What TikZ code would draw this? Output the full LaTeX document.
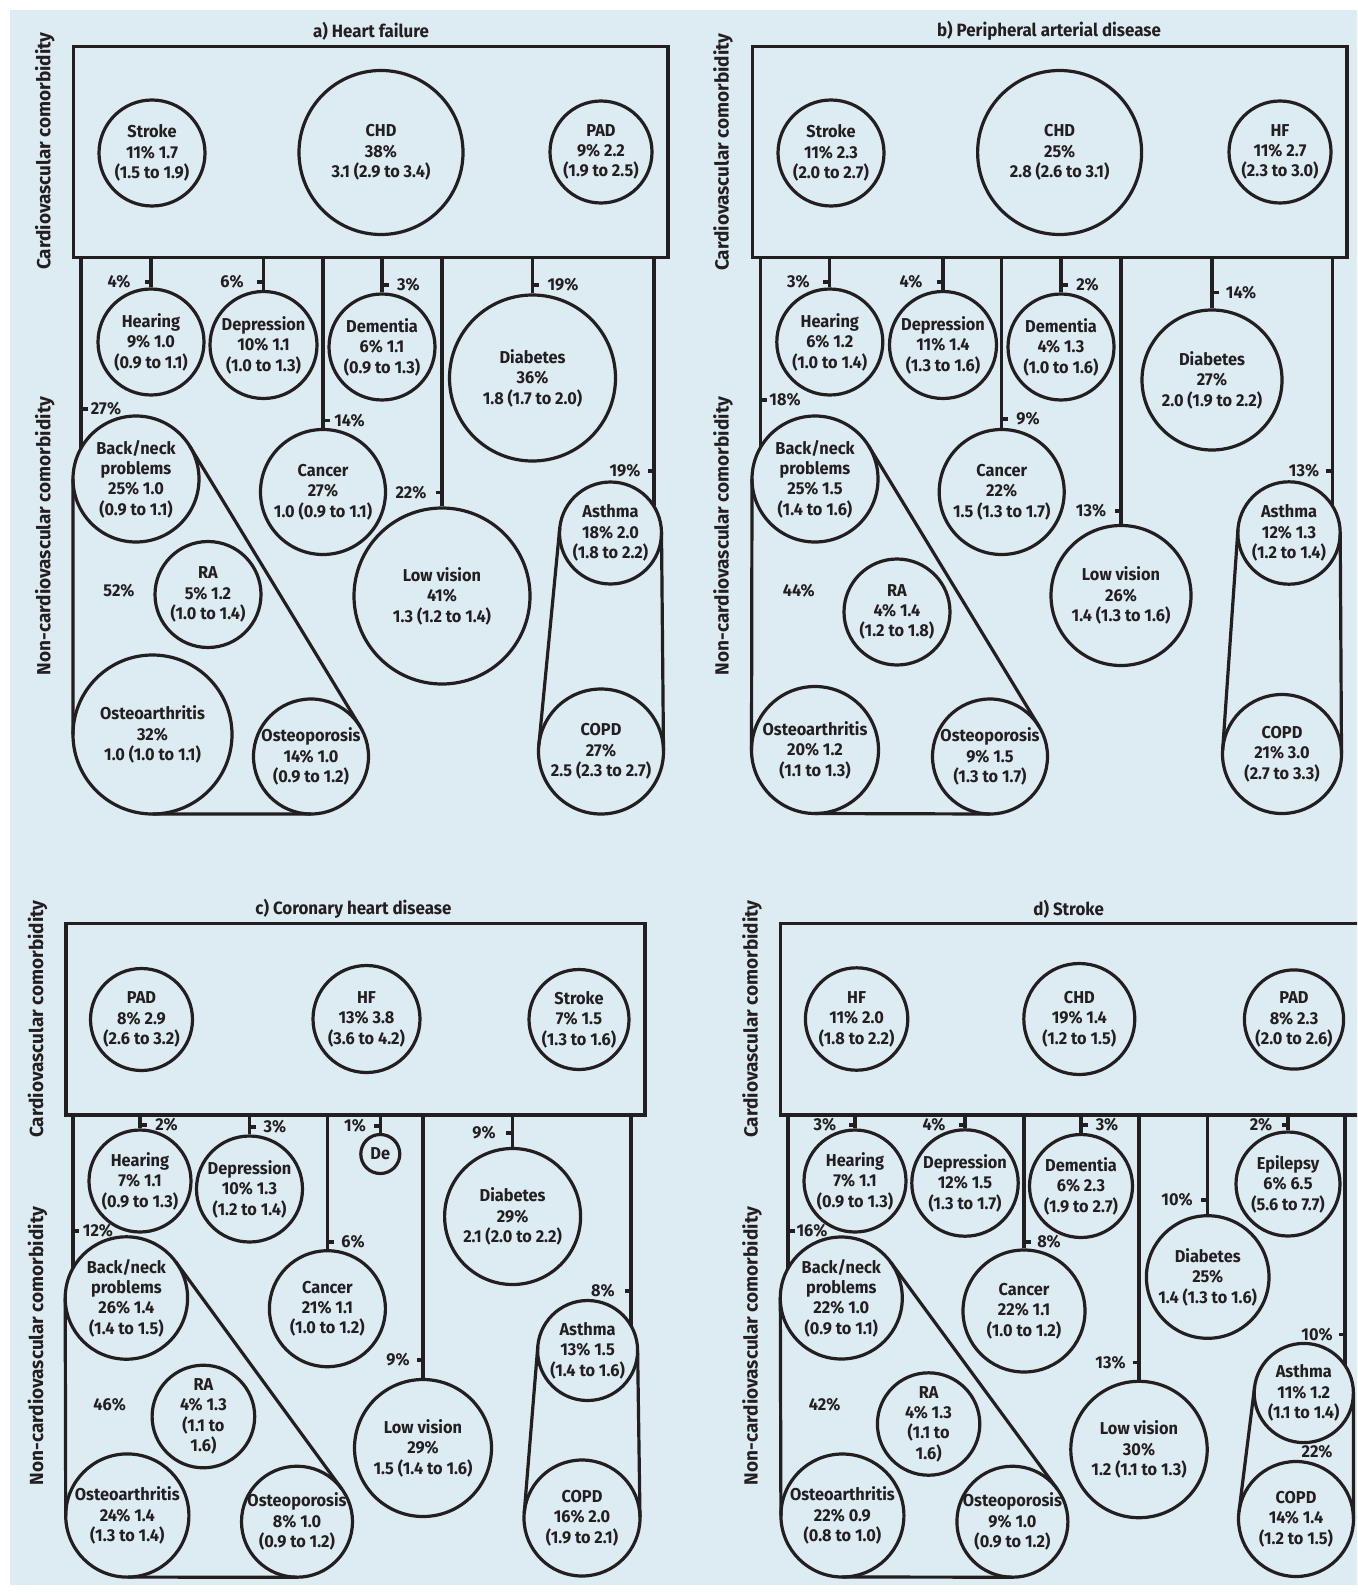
\documentclass[tikz,border=0pt]{standalone}
\usepackage{fontspec}
\setmainfont{Fira Sans}[FakeStretch=0.95]
\newfontfamily\axisfam{Fira Sans}
\usetikzlibrary{calc}
\definecolor{bg}{RGB}{221,235,243}
\definecolor{ink}{RGB}{35,31,32}
\newcommand\nf{\fontsize{8.6}{10.2}\selectfont\bfseries}
\newcommand\tf{\fontsize{8.9}{10.5}\selectfont\bfseries}
\newcommand\af{\axisfam\fontsize{9.5}{11}\selectfont\bfseries}
\tikzset{
 circ/.style={shape=circle,draw=ink,line width=1.6pt,inner sep=0pt,minimum size=#1pt},
 ctext/.style={font=\nf,text=ink,align=center,inner sep=0pt},
 box/.style={shape=rectangle,draw=ink,line width=1.6pt,inner sep=0pt},
 conn/.style={draw=ink,line width=1.6pt},
 hull/.style={draw=ink,line width=1.6pt},
 lab/.style={font=\nf,text=ink,inner sep=0pt},
 ttl/.style={font=\tf,text=ink,inner sep=0pt},
 axislab/.style={font=\af,text=ink,rotate=90,inner sep=0pt},
}
% circle node: name, x, y, radius(px), text
\newcommand\mkcirc[5]{\node[circ=#4] (#1) at (#2,#3) {};\node[ctext] (#1t) at (#1.center) {#5};}
% tick: name, x, y, dir, label x, text
\newcommand\pctick[6]{\draw[conn] (#2,#3) -- ++(#4*6.5,0);\node[lab] (#1) at (#5,#3) {#6};}
% external tangent between two circles: x1 y1 r1 x2 y2 r2 side
\newcommand\hulltan[7]{%
 \pgfmathsetmacro\tdx{(#4)-(#1)}%
 \pgfmathsetmacro\tdy{(#5)-(#2)}%
 \pgfmathsetmacro\tL{veclen(\tdx,\tdy)}%
 \pgfmathsetmacro\tph{atan2(\tdy,\tdx)}%
 \pgfmathsetmacro\tth{\tph+(#7)*acos(((#3)-(#6))/\tL)}%
 \draw[hull] ($(#1,#2)+(\tth:#3)$) -- ($(#4,#5)+(\tth:#6)$);}
\begin{document}
\begin{tikzpicture}[x=0.5pt,y=-0.5pt]
\useasboundingbox (0,0) rectangle (1357,1594);
\clip (0,0) rectangle (1357,1594);
\fill[white] (0,0) rectangle (1357,1594);
\fill[bg] (9.5,10) rectangle (1357,1585);

%================ a) Heart failure
\node[ttl] (ta) at (371,31) {a) Heart failure};
\node[axislab] (cva) at (44.7,151) {Cardiovascular comorbidity};
\node[axislab] (nca) at (44.7,536) {Non-cardiovascular comorbidity};
\node[box,minimum width=297.15pt,minimum height=105.5pt] (ra) at (370.85,152.2) {};
\mkcirc{a1}{152}{153}{53}{Stroke\\11\% 1.7\\(1.5 to 1.9)}
\mkcirc{a2}{381}{152.5}{82}{CHD\\38\%\\3.1 (2.9 to 3.4)}
\mkcirc{a3}{601}{152}{51}{PAD\\9\% 2.2\\(1.9 to 2.5)}
\mkcirc{a4}{151}{342}{53}{Hearing\\9\% 1.0\\(0.9 to 1.1)}
\mkcirc{a5}{263.5}{345}{53.5}{Depression\\10\% 1.1\\(1.0 to 1.3)}
\mkcirc{a6}{382}{347}{53}{Dementia\\6\% 1.1\\(0.9 to 1.3)}
\mkcirc{a7}{532.5}{378}{83}{Diabetes\\36\%\\1.8 (1.7 to 2.0)}
\mkcirc{a8}{323}{492}{62.5}{Cancer\\27\%\\1.0 (0.9 to 1.1)}
\mkcirc{a9}{442}{596}{88}{Low vision\\41\%\\1.3 (1.2 to 1.4)}
\mkcirc{a10}{610.5}{533}{51}{Asthma\\18\% 2.0\\(1.8 to 2.2)}
\mkcirc{a11}{601}{751.5}{62.5}{COPD\\27\%\\2.5 (2.3 to 2.7)}
\mkcirc{a12}{136}{479}{63}{Back/neck\\problems\\25\% 1.0\\(0.9 to 1.1)}
\mkcirc{a13}{208}{594.5}{53}{RA\\5\% 1.2\\(1.0 to 1.4)}
\mkcirc{a14}{152.5}{734.5}{79.5}{Osteoarthritis\\32\%\\1.0 (1.0 to 1.1)}
\mkcirc{a15}{311}{756.5}{57.5}{Osteoporosis\\14\% 1.0\\(0.9 to 1.2)}
\coordinate (aL) at (81,448.3);
\coordinate (aR) at (654,506.4);
\foreach \n in {a4,a5,a6,a7,a8,a9} \draw[conn] (ra.south -| \n.north) -- (\n.north);
\draw[conn] (ra.south -| aL) -- (aL);
\draw[conn] (ra.south -| aR) -- (aR);
\pctick{pa1}{151}{282}{-1}{119}{4\%}
\pctick{pa2}{263.5}{282}{-1}{232}{6\%}
\pctick{pa3}{382}{285}{1}{408.5}{3\%}
\pctick{pa4}{532.5}{285}{1}{563}{19\%}
\pctick{pa5}{81}{409}{1}{106}{27\%}
\pctick{pa6}{323}{420.7}{1}{349.5}{14\%}
\pctick{pa7}{442}{492.7}{-1}{411}{22\%}
\pctick{pa8}{654}{471}{-1}{625}{19\%}
\node[lab] (ga) at (119,590.7) {52\%};
\hulltan{136}{479}{63}{152.5}{734.5}{79.5}{1}
\hulltan{136}{479}{63}{311}{756.5}{57.5}{-1}
\hulltan{152.5}{734.5}{79.5}{311}{756.5}{57.5}{1}
\hulltan{610.5}{533}{51}{601}{751.5}{62.5}{1}
\hulltan{610.5}{533}{51}{601}{751.5}{62.5}{-1}

%================ b) Peripheral arterial disease
\node[ttl] (tb) at (1049,31) {b) Peripheral arterial disease};
\node[axislab] (cvb) at (723,152) {Cardiovascular comorbidity};
\node[axislab] (ncb) at (723,536) {Non-cardiovascular comorbidity};
\node[box,minimum width=297.25pt,minimum height=105.5pt] (rb) at (1049.75,152.2) {};
\mkcirc{b1}{831}{153}{53}{Stroke\\11\% 2.3\\(2.0 to 2.7)}
\mkcirc{b2}{1059.6}{152.5}{82}{CHD\\25\%\\2.8 (2.6 to 3.1)}
\mkcirc{b3}{1280}{152}{51}{HF\\11\% 2.7\\(2.3 to 3.0)}
\mkcirc{b4}{829.8}{342}{53}{Hearing\\6\% 1.2\\(1.0 to 1.4)}
\mkcirc{b5}{943}{345}{53.5}{Depression\\11\% 1.4\\(1.3 to 1.6)}
\mkcirc{b6}{1061}{347}{53}{Dementia\\4\% 1.3\\(1.0 to 1.6)}
\mkcirc{b7}{1212}{380}{70}{Diabetes\\27\%\\2.0 (1.9 to 2.2)}
\mkcirc{b8}{1001.7}{492}{62.5}{Cancer\\22\%\\1.5 (1.3 to 1.7)}
\mkcirc{b9}{1121}{595.5}{70}{Low vision\\26\%\\1.4 (1.3 to 1.6)}
\mkcirc{b10}{1289}{533}{51.2}{Asthma\\12\% 1.3\\(1.2 to 1.4)}
\mkcirc{b11}{1282}{754}{59.5}{COPD\\21\% 3.0\\(2.7 to 3.3)}
\mkcirc{b12}{815}{479}{63}{Back/neck\\problems\\25\% 1.5\\(1.4 to 1.6)}
\mkcirc{b13}{897}{612}{53}{RA\\4\% 1.4\\(1.2 to 1.8)}
\mkcirc{b14}{815}{750}{63.5}{Osteoarthritis\\20\% 1.2\\(1.1 to 1.3)}
\mkcirc{b15}{990}{756.5}{57.5}{Osteoporosis\\9\% 1.5\\(1.3 to 1.7)}
\coordinate (bL) at (760.7,447);
\coordinate (bR) at (1332.8,506.5);
\foreach \n in {b4,b5,b6,b7,b8,b9} \draw[conn] (rb.south -| \n.north) -- (\n.north);
\draw[conn] (rb.south -| bL) -- (bL);
\draw[conn] (rb.south -| bR) -- (bR);
\pctick{pb1}{829.8}{282}{-1}{798.5}{3\%}
\pctick{pb2}{943}{282}{-1}{911}{4\%}
\pctick{pb3}{1061}{285}{1}{1087.5}{2\%}
\pctick{pb4}{1212}{292.3}{1}{1241}{14\%}
\pctick{pb5}{760.7}{400}{1}{785}{18\%}
\pctick{pb6}{1001.7}{419}{1}{1028}{9\%}
\pctick{pb7}{1121}{511}{-1}{1091}{13\%}
\pctick{pb8}{1332.8}{471}{-1}{1304}{13\%}
\node[lab] (gb) at (798.7,590.7) {44\%};
\hulltan{815}{479}{63}{815}{750}{63.5}{1}
\hulltan{815}{479}{63}{990}{756.5}{57.5}{-1}
\hulltan{815}{750}{63.5}{990}{756.5}{57.5}{1}
\hulltan{1289}{533}{51.2}{1282}{754}{59.5}{1}
\hulltan{1289}{533}{51.2}{1282}{754}{59.5}{-1}

%================ c) Coronary heart disease
\node[ttl] (tc) at (353.4,909.3) {c) Coronary heart disease};
\node[axislab] (cvc) at (37.5,1019) {Cardiovascular comorbidity};
\node[axislab] (ncc) at (37.5,1346) {Non-cardiovascular comorbidity};
\node[box,minimum width=289.5pt,minimum height=95.85pt] (rc) at (355.5,1019.15) {};
\mkcirc{c1}{141.5}{1019.5}{51}{PAD\\8\% 2.9\\(2.6 to 3.2)}
\mkcirc{c2}{366.5}{1019}{53.5}{HF\\13\% 3.8\\(3.6 to 4.2)}
\mkcirc{c3}{579}{1019.5}{50}{Stroke\\7\% 1.5\\(1.3 to 1.6)}
\mkcirc{c4}{140}{1181}{51}{Hearing\\7\% 1.1\\(0.9 to 1.3)}
\mkcirc{c5}{249.5}{1189}{53}{Depression\\10\% 1.3\\(1.2 to 1.4)}
\mkcirc{c6}{380.3}{1154}{19.5}{De}
\mkcirc{c7}{512.6}{1216.5}{68}{Diabetes\\29\%\\2.1 (2.0 to 2.2)}
\mkcirc{c8}{327.4}{1308.7}{58}{Cancer\\21\% 1.1\\(1.0 to 1.2)}
\mkcirc{c9}{423}{1448}{68.5}{Low vision\\29\%\\1.5 (1.4 to 1.6)}
\mkcirc{c10}{587.6}{1350.5}{50}{Asthma\\13\% 1.5\\(1.4 to 1.6)}
\mkcirc{c11}{582}{1518}{58}{COPD\\16\% 2.0\\(1.9 to 2.1)}
\mkcirc{c12}{126.4}{1298}{61.2}{Back/neck\\problems\\26\% 1.4\\(1.4 to 1.5)}
\mkcirc{c13}{203.4}{1416.5}{51.3}{RA\\4\% 1.3\\(1.1 to\\1.6)}
\mkcirc{c14}{127.3}{1515.5}{61.6}{Osteoarthritis\\24\% 1.4\\(1.3 to 1.4)}
\mkcirc{c15}{297}{1521.7}{55.5}{Osteoporosis\\8\% 1.0\\(0.9 to 1.2)}
\coordinate (cL) at (72.9,1268.3);
\coordinate (cR) at (631,1325.7);
\foreach \n in {c4,c5,c6,c7,c8,c9} \draw[conn] (rc.south -| \n.north) -- (\n.north);
\draw[conn] (rc.south -| cL) -- (cL);
\draw[conn] (rc.south -| cR) -- (cR);
\pctick{pc1}{140}{1125}{1}{166.5}{2\%}
\pctick{pc2}{249.5}{1127}{1}{275}{3\%}
\pctick{pc3}{380.3}{1126}{-1}{355}{1\%}
\pctick{pc4}{512.6}{1133}{-1}{484}{9\%}
\pctick{pc5}{72.9}{1231}{1}{98}{12\%}
\pctick{pc6}{327.4}{1242}{1}{353}{6\%}
\pctick{pc7}{423}{1360}{-1}{398}{9\%}
\pctick{pc8}{631}{1291}{-1}{603}{8\%}
\node[lab] (gc) at (109.7,1405) {46\%};
\hulltan{126.4}{1298}{61.2}{127.3}{1515.5}{61.6}{1}
\hulltan{126.4}{1298}{61.2}{297}{1521.7}{55.5}{-1}
\hulltan{127.3}{1515.5}{61.6}{297}{1521.7}{55.5}{1}
\hulltan{587.6}{1350.5}{50}{582}{1518}{58}{1}
\hulltan{587.6}{1350.5}{50}{582}{1518}{58}{-1}

%================ d) Stroke
\node[ttl] (td) at (1068.6,909.3) {d) Stroke};
\node[axislab] (cvd) at (752,1019) {Cardiovascular comorbidity};
\node[axislab] (ncd) at (752,1346) {Non-cardiovascular comorbidity};
\node[box,minimum width=290.9pt,minimum height=95.85pt] (rd) at (1071.1,1019.15) {};
\mkcirc{d1}{856.6}{1019}{51.2}{HF\\11\% 2.0\\(1.8 to 2.2)}
\mkcirc{d2}{1079.3}{1019}{55.5}{CHD\\19\% 1.4\\(1.2 to 1.5)}
\mkcirc{d3}{1294}{1019.5}{49.6}{PAD\\8\% 2.3\\(2.0 to 2.6)}
\mkcirc{d4}{855}{1181}{51}{Hearing\\7\% 1.1\\(0.9 to 1.3)}
\mkcirc{d5}{965}{1183}{53.2}{Depression\\12\% 1.5\\(1.3 to 1.7)}
\mkcirc{d6}{1081}{1186}{51.5}{Dementia\\6\% 2.3\\(1.9 to 2.7)}
\mkcirc{d7}{1288}{1184}{52}{Epilepsy\\6\% 6.5\\(5.6 to 7.7)}
\mkcirc{d8}{1207.7}{1277}{61.3}{Diabetes\\25\%\\1.4 (1.3 to 1.6)}
\mkcirc{d9}{1024}{1311}{61}{Cancer\\22\% 1.1\\(1.0 to 1.2)}
\mkcirc{d10}{1139}{1449.5}{68.2}{Low vision\\30\%\\1.2 (1.1 to 1.3)}
\mkcirc{d11}{1303.8}{1393}{49.6}{Asthma\\11\% 1.2\\(1.1 to 1.4)}
\mkcirc{d12}{1296}{1519}{57.5}{COPD\\14\% 1.4\\(1.2 to 1.5)}
\mkcirc{d13}{841.3}{1298}{61}{Back/neck\\problems\\22\% 1.0\\(0.9 to 1.1)}
\mkcirc{d14}{928.6}{1424}{51.2}{RA\\4\% 1.3\\(1.1 to\\1.6)}
\mkcirc{d15}{842.4}{1515.5}{61.5}{Osteoarthritis\\22\% 0.9\\(0.8 to 1.0)}
\mkcirc{d16}{1012.4}{1521.7}{55.5}{Osteoporosis\\9\% 1.0\\(0.9 to 1.2)}
\coordinate (dL) at (788,1268.3);
\coordinate (dR) at (1345,1365);
\foreach \n in {d4,d5,d6,d7,d8,d9,d10} \draw[conn] (rd.south -| \n.north) -- (\n.north);
\draw[conn] (rd.south -| dL) -- (dL);
\draw[conn] (rd.south -| dR) -- (dR);
\pctick{pd1}{855}{1125}{-1}{825}{3\%}
\pctick{pd2}{965}{1125}{-1}{934}{4\%}
\pctick{pd3}{1081}{1125}{1}{1107}{3\%}
\pctick{pd4}{1288}{1125}{-1}{1261}{2\%}
\pctick{pd5}{1207.7}{1200}{-1}{1177}{10\%}
\pctick{pd6}{788}{1231}{1}{812}{16\%}
\pctick{pd7}{1024}{1242}{1}{1049}{8\%}
\pctick{pd8}{1139}{1362.7}{-1}{1110.5}{13\%}
\pctick{pd9}{1345}{1334.3}{-1}{1317}{10\%}
\node[lab] (gd1) at (824.6,1405) {42\%};
\node[lab] (gd2) at (1317,1451.7) {22\%};
\hulltan{841.3}{1298}{61}{842.4}{1515.5}{61.5}{1}
\hulltan{841.3}{1298}{61}{1012.4}{1521.7}{55.5}{-1}
\hulltan{842.4}{1515.5}{61.5}{1012.4}{1521.7}{55.5}{1}
\hulltan{1303.8}{1393}{49.6}{1296}{1519}{57.5}{1}
\hulltan{1303.8}{1393}{49.6}{1296}{1519}{57.5}{-1}
\end{tikzpicture}
\end{document}
